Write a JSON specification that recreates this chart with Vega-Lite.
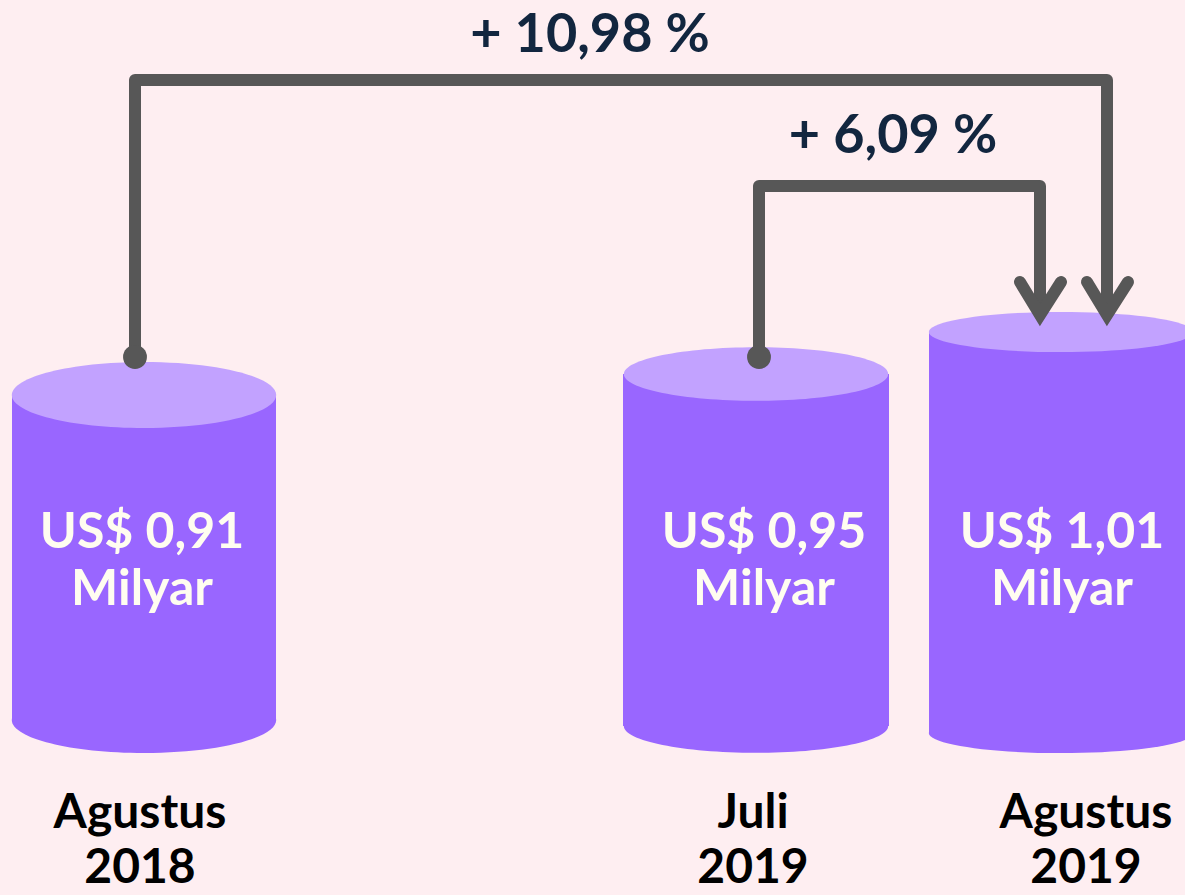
{
  "$schema": "https://vega.github.io/schema/vega-lite/v6.json",
  "width": 1185,
  "height": 895,
  "padding": 0,
  "autosize": {"type": "fit", "contains": "padding"},
  "background": "#FEEEF1",
  "config": {"view": {"stroke": null}},
  "datasets": {
    "cylinders": [
      {"period": "Agustus 2018", "value": 0.91, "xc": 144, "x0": 12, "x1": 276, "top": 395, "bottom": 720},
      {"period": "Juli 2019", "value": 0.95, "xc": 756, "x0": 623, "x1": 889, "top": 374, "bottom": 726},
      {"period": "Agustus 2019", "value": 1.01, "xc": 1061, "x0": 929, "x1": 1193, "top": 332, "bottom": 733}
    ],
    "paths": [
      {"id": "a", "ord": 1, "x": 135, "y": 357},
      {"id": "a", "ord": 2, "x": 135, "y": 80},
      {"id": "a", "ord": 3, "x": 1107, "y": 80},
      {"id": "a", "ord": 4, "x": 1107, "y": 315},
      {"id": "b", "ord": 1, "x": 759, "y": 357},
      {"id": "b", "ord": 2, "x": 759, "y": 186},
      {"id": "b", "ord": 3, "x": 1040, "y": 186},
      {"id": "b", "ord": 4, "x": 1040, "y": 315}
    ],
    "chevrons": [
      {"id": "c", "ord": 1, "x": 1087, "y": 282},
      {"id": "c", "ord": 2, "x": 1107, "y": 315},
      {"id": "c", "ord": 3, "x": 1128, "y": 282},
      {"id": "d", "ord": 1, "x": 1020, "y": 282},
      {"id": "d", "ord": 2, "x": 1040, "y": 315},
      {"id": "d", "ord": 3, "x": 1061, "y": 282}
    ],
    "dots": [
      {"x": 135, "y": 357},
      {"x": 759, "y": 357}
    ],
    "pct": [
      {"text": "+ 10,98 %", "x": 590, "y": 52},
      {"text": "+ 6,09 %", "x": 893, "y": 153}
    ],
    "amt": [
      {"text": "US$ 0,91\nMilyar", "x": 142, "y": 548},
      {"text": "US$ 0,95\nMilyar", "x": 764, "y": 548},
      {"text": "US$ 1,01\nMilyar", "x": 1062, "y": 548}
    ],
    "per": [
      {"text": "Agustus\n2018", "x": 140, "y": 828},
      {"text": "Juli\n2019", "x": 753, "y": 828},
      {"text": "Agustus\n2019", "x": 1086, "y": 828}
    ]
  },
  "layer": [
    {
      "data": {"name": "cylinders"},
      "mark": {"type": "point", "filled": true, "opacity": 1, "strokeWidth": 0, "size": 69900, "color": "#9966FF", "clip": true},
      "encoding": {
        "x": {"field": "xc", "type": "quantitative", "scale": {"domain": [0, 1185], "nice": false, "zero": false}, "axis": null},
        "y": {"field": "bottom", "type": "quantitative", "scale": {"domain": [0, 895], "nice": false, "zero": false, "reverse": true}, "axis": null},
        "shape": {"field": "period", "type": "nominal", "scale": {"domain": ["Agustus 2018", "Juli 2019", "Agustus 2019"], "range": ["M-1,0A1,0.25 0 1,0 1,0A1,0.25 0 1,0 -1,0Z", "M-1,0A1,0.203 0 1,0 1,0A1,0.203 0 1,0 -1,0Z", "M-1,0A1,0.152 0 1,0 1,0A1,0.152 0 1,0 -1,0Z"]}, "legend": null}
      }
    },
    {
      "data": {"name": "cylinders"},
      "mark": {"type": "rect", "color": "#9966FF", "clip": true},
      "encoding": {
        "x": {"field": "x0", "type": "quantitative", "scale": {"domain": [0, 1185], "nice": false, "zero": false}, "axis": null},
        "x2": {"field": "x1"},
        "y": {"field": "top", "type": "quantitative", "scale": {"domain": [0, 895], "nice": false, "zero": false, "reverse": true}, "axis": null},
        "y2": {"field": "bottom"}
      }
    },
    {
      "data": {"name": "cylinders"},
      "mark": {"type": "point", "filled": true, "opacity": 1, "strokeWidth": 0, "size": 69900, "color": "#C2A2FF", "clip": true},
      "encoding": {
        "x": {"field": "xc", "type": "quantitative", "scale": {"domain": [0, 1185], "nice": false, "zero": false}, "axis": null},
        "y": {"field": "top", "type": "quantitative", "scale": {"domain": [0, 895], "nice": false, "zero": false, "reverse": true}, "axis": null},
        "shape": {"field": "period", "type": "nominal", "scale": {"domain": ["Agustus 2018", "Juli 2019", "Agustus 2019"], "range": ["M-1,0A1,0.25 0 1,0 1,0A1,0.25 0 1,0 -1,0Z", "M-1,0A1,0.203 0 1,0 1,0A1,0.203 0 1,0 -1,0Z", "M-1,0A1,0.152 0 1,0 1,0A1,0.152 0 1,0 -1,0Z"]}, "legend": null}
      }
    },
    {
      "data": {"name": "paths"},
      "mark": {"type": "line", "color": "#575757", "strokeWidth": 12, "strokeJoin": "round", "strokeCap": "butt", "clip": true},
      "encoding": {
        "x": {"field": "x", "type": "quantitative", "scale": {"domain": [0, 1185], "nice": false, "zero": false}, "axis": null},
        "y": {"field": "y", "type": "quantitative", "scale": {"domain": [0, 895], "nice": false, "zero": false, "reverse": true}, "axis": null},
        "detail": {"field": "id"},
        "order": {"field": "ord", "type": "quantitative"}
      }
    },
    {
      "data": {"name": "chevrons"},
      "mark": {"type": "line", "color": "#575757", "strokeWidth": 12, "strokeJoin": "miter", "strokeCap": "round", "strokeMiterLimit": 10, "clip": true},
      "encoding": {
        "x": {"field": "x", "type": "quantitative", "scale": {"domain": [0, 1185], "nice": false, "zero": false}, "axis": null},
        "y": {"field": "y", "type": "quantitative", "scale": {"domain": [0, 895], "nice": false, "zero": false, "reverse": true}, "axis": null},
        "detail": {"field": "id"},
        "order": {"field": "ord", "type": "quantitative"}
      }
    },
    {
      "data": {"name": "dots"},
      "mark": {"type": "circle", "opacity": 1, "size": 570, "color": "#575757"},
      "encoding": {
        "x": {"field": "x", "type": "quantitative", "scale": {"domain": [0, 1185], "nice": false, "zero": false}, "axis": null},
        "y": {"field": "y", "type": "quantitative", "scale": {"domain": [0, 895], "nice": false, "zero": false, "reverse": true}, "axis": null}
      }
    },
    {
      "data": {"name": "pct"},
      "mark": {"type": "text", "font": "Lato", "fontWeight": "bold", "fontSize": 54, "color": "#12263F", "align": "center", "baseline": "alphabetic"},
      "encoding": {
        "x": {"field": "x", "type": "quantitative", "scale": {"domain": [0, 1185], "nice": false, "zero": false}, "axis": null},
        "y": {"field": "y", "type": "quantitative", "scale": {"domain": [0, 895], "nice": false, "zero": false, "reverse": true}, "axis": null},
        "text": {"field": "text"}
      }
    },
    {
      "data": {"name": "amt"},
      "mark": {"type": "text", "font": "Lato", "fontWeight": "bold", "fontSize": 50, "lineBreak": "\n", "lineHeight": 57, "color": "#FFFDF0", "align": "center", "baseline": "alphabetic"},
      "encoding": {
        "x": {"field": "x", "type": "quantitative", "scale": {"domain": [0, 1185], "nice": false, "zero": false}, "axis": null},
        "y": {"field": "y", "type": "quantitative", "scale": {"domain": [0, 895], "nice": false, "zero": false, "reverse": true}, "axis": null},
        "text": {"field": "text"}
      }
    },
    {
      "data": {"name": "per"},
      "mark": {"type": "text", "font": "Lato", "fontWeight": "bold", "fontSize": 48, "lineBreak": "\n", "lineHeight": 55, "color": "#000000", "align": "center", "baseline": "alphabetic"},
      "encoding": {
        "x": {"field": "x", "type": "quantitative", "scale": {"domain": [0, 1185], "nice": false, "zero": false}, "axis": null},
        "y": {"field": "y", "type": "quantitative", "scale": {"domain": [0, 895], "nice": false, "zero": false, "reverse": true}, "axis": null},
        "text": {"field": "text"}
      }
    }
  ]
}
